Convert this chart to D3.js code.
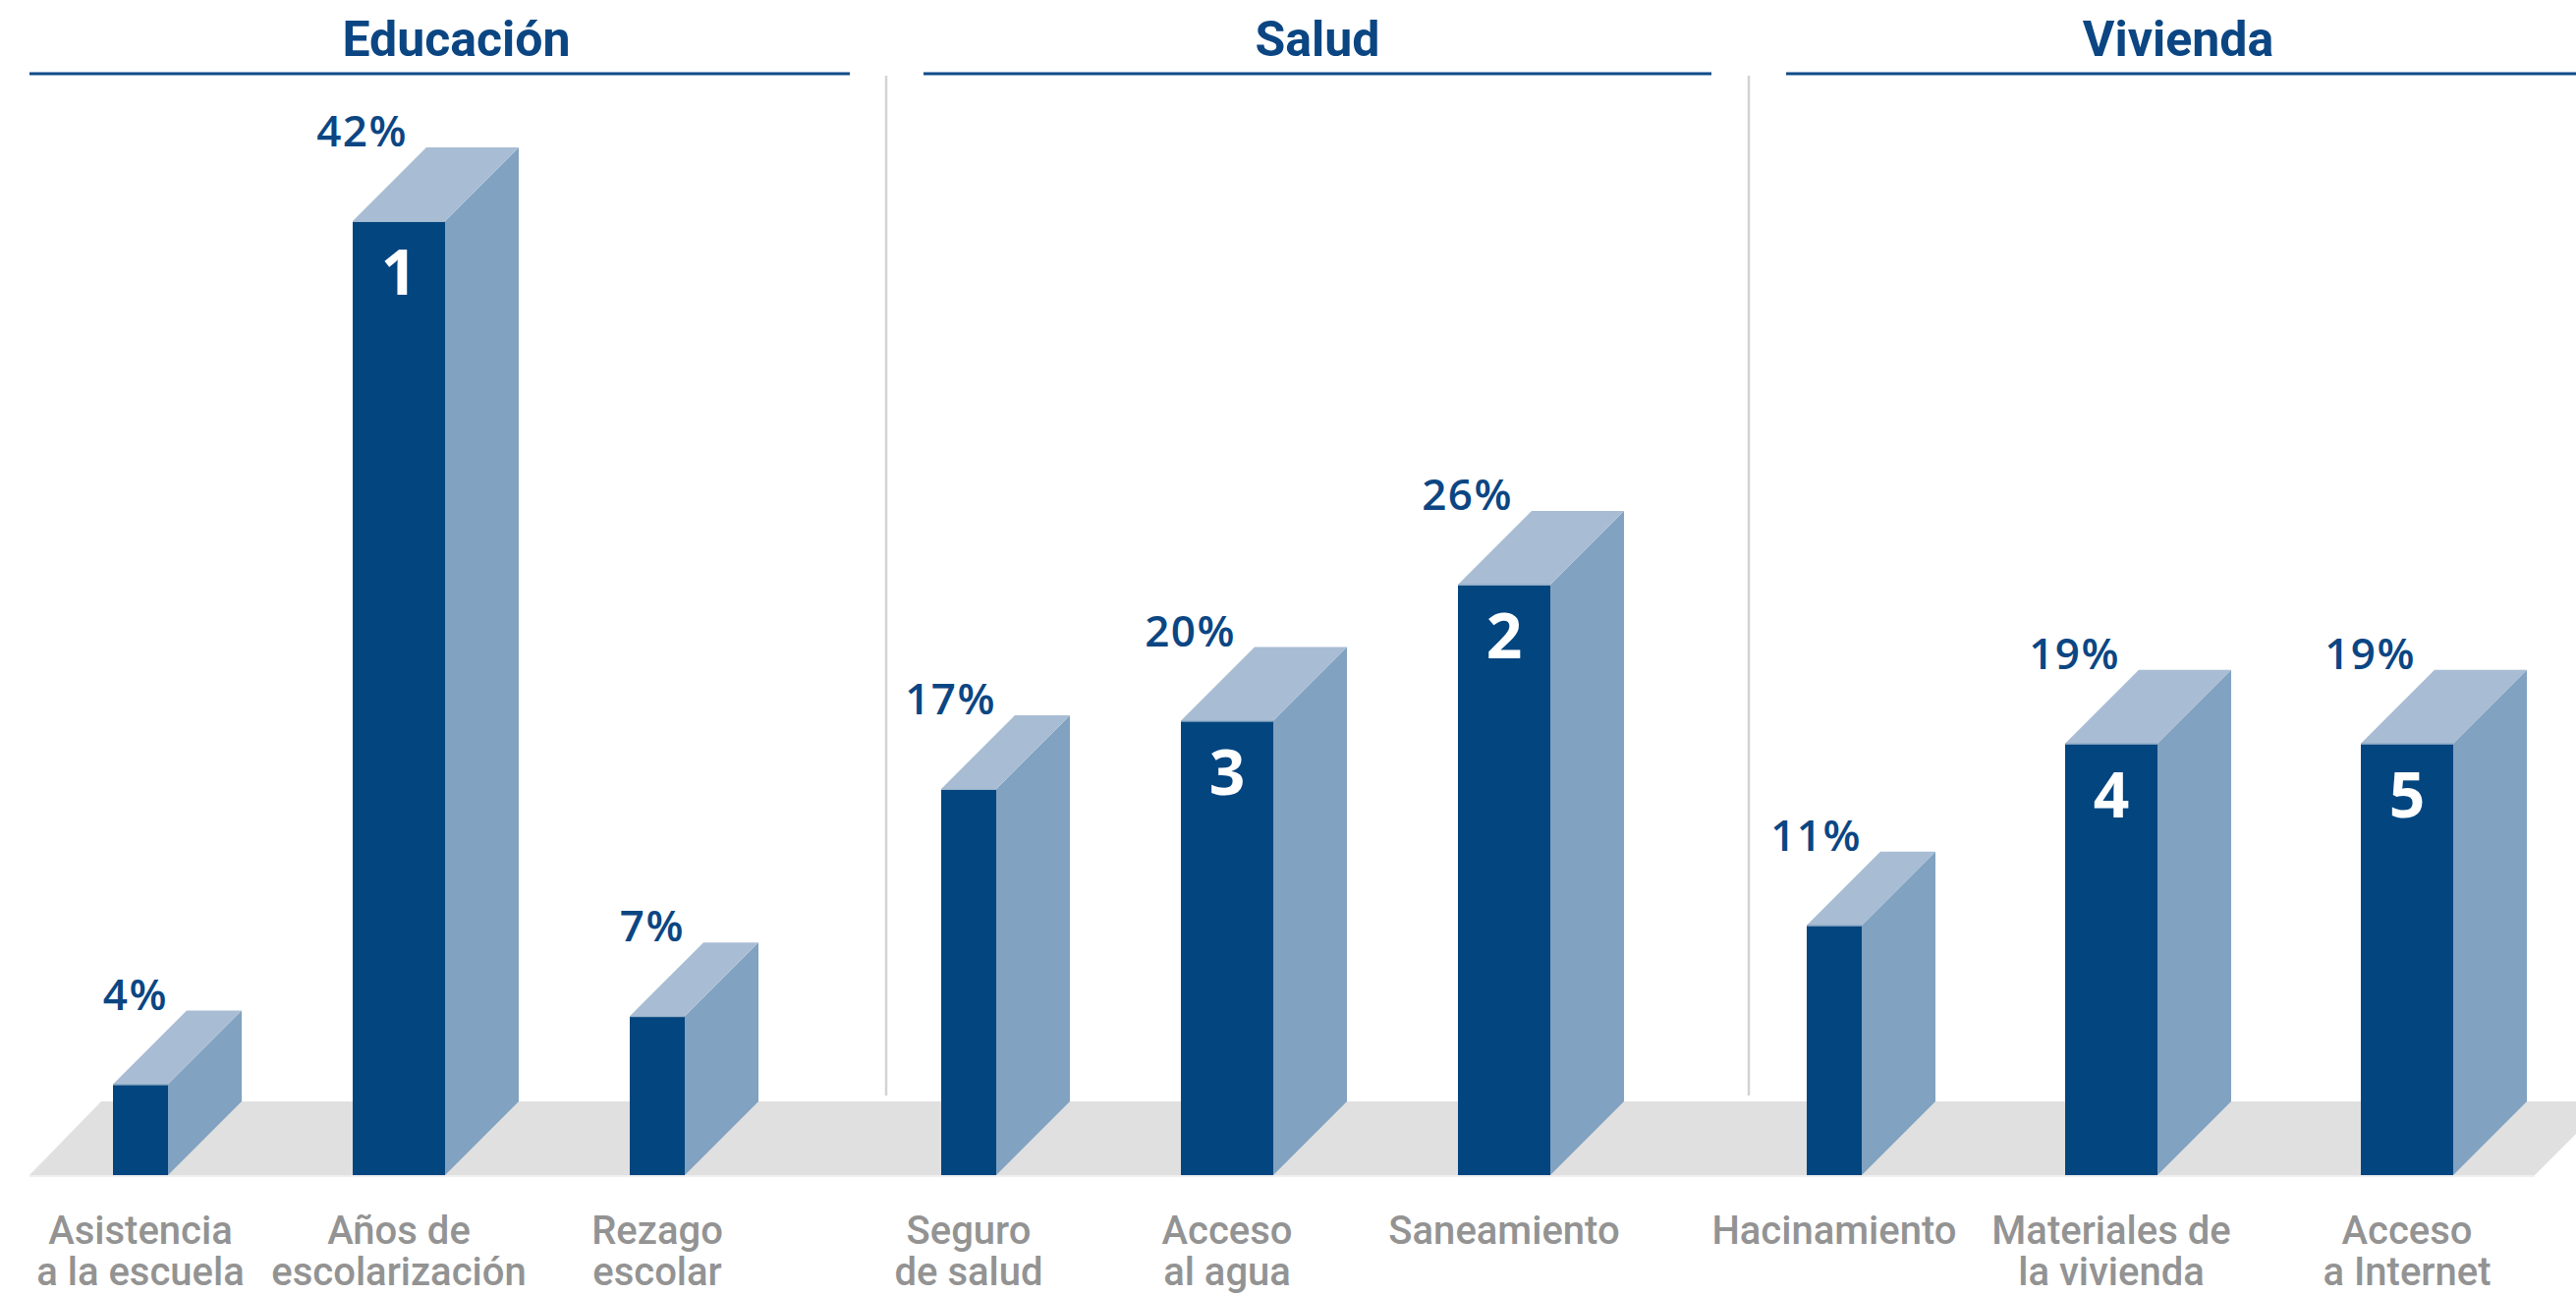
<!DOCTYPE html>
<html lang="es">
<head>
<meta charset="utf-8">
<title>Privaciones por dimensión</title>
<script src="https://cdn.jsdelivr.net/npm/d3@7/dist/d3.min.js"></script>
<style>
  html, body { margin: 0; padding: 0; background: #ffffff; }
  svg { display: block; }
</style>
</head>
<body>
<div id="chart"></div>
<script>
// ---- Data ----
const groups = ["Educación", "Salud", "Vivienda"];
const categories = [
  "Asistencia a la escuela", "Años de escolarización", "Rezago escolar",
  "Seguro de salud", "Acceso al agua", "Saneamiento",
  "Hacinamiento", "Materiales de la vivienda", "Acceso a Internet"
];
const categoryLines = [
  ["Asistencia", "a la escuela"], ["Años de", "escolarización"], ["Rezago", "escolar"],
  ["Seguro", "de salud"], ["Acceso", "al agua"], ["Saneamiento"],
  ["Hacinamiento"], ["Materiales de", "la vivienda"], ["Acceso", "a Internet"]
];
const categoryGroup = [
  "Educación", "Educación", "Educación",
  "Salud", "Salud", "Salud",
  "Vivienda", "Vivienda", "Vivienda"
];
const values = [4, 42, 7, 17, 20, 26, 11, 19, 19];
const ranks = [null, 1, null, null, 3, 2, null, 4, 5];

// ---- Layout ----
const W = 2622, H = 1318;
const depth = 75;               // oblique depth of each block (45°)
const wideW = 94, narrowW = 56; // ranked blocks are drawn wider
const startX = 115;
const innerGap = { "Educación": 113, "Salud": 113, "Vivienda": 132 };
const groupGap = 186;
const baseY = 1196;
const sectionSpans = { "Educación": [30, 865], "Salud": [940, 1742], "Vivienda": [1818, 2660] };
const titleShift = { "Educación": 17, "Salud": 0, "Vivienda": -22 };
const separators = [902, 1780];

const C = {
  front: "#02457f",
  top: "#a8bdd4",
  side: "#81a2c0",
  floor: "#e0e0e0",
  floorEdge: "#efefef",
  navy: "#0b4683",
  rule: "#0f4c88",
  sep: "#d3d3d3",
  cat: "#939393"
};

const rows = categories.map((c, i) => ({
  cat: c, lines: categoryLines[i], group: categoryGroup[i],
  value: values[i], rank: ranks[i],
  w: ranks[i] ? wideW : narrowW
}));

// Horizontal flow: each block occupies its face width plus depth, separated by gaps
const lefts = [];
let cursor = startX;
rows.forEach((d, i) => {
  if (i > 0) cursor += (d.group === rows[i - 1].group) ? innerGap[d.group] : groupGap;
  lefts.push(cursor);
  cursor += d.w + depth;
});
const x = d3.scaleOrdinal().domain(categories).range(lefts);
const y = d3.scaleLinear().domain([0, 42]).range([baseY, 225]);

const svg = d3.select("#chart").append("svg")
  .attr("width", W).attr("height", H)
  .attr("viewBox", `0 0 ${W} ${H}`);

// ---- Floor ----
const floorL = 30, floorR = 2580;
svg.append("polygon")
  .attr("points", [[floorL, baseY], [floorL + depth - 2, baseY - depth], [floorR + depth, baseY - depth], [floorR, baseY]].join(" "))
  .attr("fill", C.floor);
svg.append("line")
  .attr("x1", floorL).attr("x2", floorR).attr("y1", baseY + 1).attr("y2", baseY + 1)
  .attr("stroke", C.floorEdge).attr("stroke-width", 2);

// ---- Section separators ----
svg.selectAll("line.sep").data(separators).join("line")
  .attr("class", "sep")
  .attr("x1", d => d).attr("x2", d => d)
  .attr("y1", 77).attr("y2", 1115)
  .attr("stroke", C.sep).attr("stroke-width", 2.5);

// ---- Section headers ----
const header = svg.selectAll("g.header").data(groups).join("g").attr("class", "header");
header.append("line")
  .attr("x1", g => sectionSpans[g][0]).attr("x2", g => sectionSpans[g][1])
  .attr("y1", 75).attr("y2", 75)
  .attr("stroke", C.rule).attr("stroke-width", 3);
header.append("text")
  .attr("x", g => (sectionSpans[g][0] + sectionSpans[g][1]) / 2 + titleShift[g])
  .attr("y", 57)
  .attr("text-anchor", "middle")
  .attr("font-family", "Roboto, 'Open Sans', sans-serif")
  .attr("font-weight", 700)
  .attr("font-size", 50)
  .attr("fill", C.navy)
  .text(g => g);

// ---- Blocks ----
const bar = svg.selectAll("g.bar").data(rows).join("g").attr("class", "bar");

bar.append("polygon") // side face
  .attr("points", d => {
    const x0 = x(d.cat) + d.w, yt = y(d.value);
    return [[x0, yt], [x0 + depth, yt - depth], [x0 + depth, baseY - depth], [x0, baseY]].join(" ");
  })
  .attr("fill", C.side);

bar.append("polygon") // top face
  .attr("points", d => {
    const x0 = x(d.cat), yt = y(d.value);
    return [[x0, yt], [x0 + depth, yt - depth], [x0 + d.w + depth, yt - depth], [x0 + d.w, yt]].join(" ");
  })
  .attr("fill", C.top);

bar.append("rect") // front face
  .attr("x", d => x(d.cat))
  .attr("y", d => y(d.value))
  .attr("width", d => d.w)
  .attr("height", d => baseY - y(d.value))
  .attr("fill", C.front);

bar.append("line") // faint highlight along the front's top edge
  .attr("x1", d => x(d.cat)).attr("x2", d => x(d.cat) + d.w)
  .attr("y1", d => y(d.value) + 0.5).attr("y2", d => y(d.value) + 0.5)
  .attr("stroke", "#c9d6e4").attr("stroke-width", 1).attr("opacity", 0.8);

// Value labels
bar.append("text")
  .attr("x", d => x(d.cat) + 56)
  .attr("y", d => y(d.value) - depth - 1)
  .attr("text-anchor", "end")
  .attr("font-family", "'Open Sans', Roboto, sans-serif")
  .attr("font-weight", 600)
  .attr("font-size", 44)
  .attr("letter-spacing", 1.5)
  .attr("fill", C.navy)
  .text(d => `${d.value}%`);

// Rank numbers on the front faces
bar.filter(d => d.rank).append("text")
  .attr("x", d => x(d.cat) + d.w / 2)
  .attr("y", d => y(d.value) + depth)
  .attr("text-anchor", "middle")
  .attr("font-family", "'Open Sans', Roboto, sans-serif")
  .attr("font-weight", 700)
  .attr("font-size", 64)
  .attr("fill", "#ffffff")
  .text(d => d.rank);

// Category labels
const cat = bar.append("text")
  .attr("text-anchor", "middle")
  .attr("font-family", "Roboto, 'Open Sans', sans-serif")
  .attr("font-weight", 500)
  .attr("font-size", 40)
  .attr("fill", C.cat);
cat.selectAll("tspan").data(d => d.lines.map(l => ({ l, cx: x(d.cat) + d.w / 2 }))).join("tspan")
  .attr("x", t => t.cx)
  .attr("y", (t, i) => 1266 + i * 42)
  .text(t => t.l);
</script>
</body>
</html>
